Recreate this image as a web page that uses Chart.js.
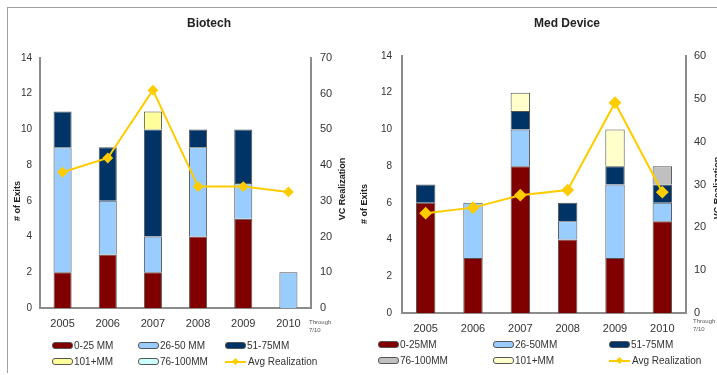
<!DOCTYPE html>
<html>
<head>
<meta charset="utf-8">
<script src="https://cdn.jsdelivr.net/npm/chart.js@4.4.1/dist/chart.umd.min.js"></script>
<style>
  body { margin: 0; width: 717px; height: 375px; overflow: hidden; background: #fff; font-family: "Liberation Sans", Arial, sans-serif; position: relative; }
  .frame { position: absolute; left: 7px; top: 7px; width: 720px; height: 365px; border-top: 1px solid #a0a0a0; border-left: 1px solid #a0a0a0; }
  .box { position: absolute; top: 8px; height: 367px; }
  .legend { position: absolute; font-size: 10px; color: #333; }
  .item { position: absolute; display: flex; align-items: center; white-space: nowrap; }
  .sw { width: 19px; height: 5px; border: 1px solid #555; border-radius: 3px; margin-right: 1px; }
  .ln { width: 21px; height: 8px; margin-right: 2px; position: relative; }
  .ln:before { content: ""; position: absolute; left: 0; right: 0; top: 3px; height: 2px; background: #ffcc00; }
  .ln:after { content: ""; position: absolute; left: 8px; top: 1px; width: 5px; height: 5px; background: #ffcc00; transform: rotate(45deg); }
</style>
</head>
<body>
<div class="frame"></div>
<div class="box" style="left:8px;width:350px"><canvas id="bio"></canvas></div>
<div class="box" style="left:358px;width:380px"><canvas id="med"></canvas></div>
<div class="legend" id="bioLegend"></div>
<div class="legend" id="medLegend"></div>
<script>
const years = ["2005", "2006", "2007", "2008", "2009", "2010"];

// Biotech: exits by size bucket, stacked bottom to top
const bio0to25 = [2, 3, 2, 4, 5, 0];
const bio26to50 = [7, 3, 2, 5, 2, 2];
const bio51to75 = [2, 3, 6, 1, 3, 0];
const bio76to100 = [0, 0, 0, 0, 0, 0];
const bio101plus = [0, 0, 1, 0, 0, 0];
const bioAvg = [38, 42, 61, 34, 34, 32.5];

// Med Device
const med0to25 = [6, 3, 8, 4, 3, 5];
const med26to50 = [0, 3, 2, 1, 4, 1];
const med51to75 = [1, 0, 1, 1, 1, 1];
const med76to100 = [0, 0, 0, 0, 0, 1];
const med101plus = [0, 0, 1, 0, 2, 0];
const medAvg = [23.3, 24.6, 27.5, 28.7, 49.1, 28.2];

const leftTicks = [0, 2, 4, 6, 8, 10, 12, 14];

const FONT = "'Liberation Sans', Arial, sans-serif";
const gold = "#ffcc00";

const nz = (arr) => arr.map((v) => (v === 0 ? null : v));

const bar = (label, data, color) => ({
  type: "bar",
  label: label,
  data: nz(data),
  backgroundColor: color,
  borderColor: "#555",
  borderWidth: 1,
  yAxisID: "y",
  order: 1,
});

// draws titles and the small "Through 7/10" note
const textPlugin = (cfg) => ({
  id: "texts",
  afterDraw(chart) {
    const ctx = chart.ctx;
    const a = chart.chartArea;
    ctx.save();
    ctx.fillStyle = "#222";
    ctx.textAlign = "center";
    ctx.textBaseline = "middle";
    ctx.font = "bold 12px " + FONT;
    ctx.fillText(cfg.title, cfg.titleX, 16);

    ctx.font = "bold 9px " + FONT;
    ctx.save();
    ctx.translate(cfg.leftTitleX, cfg.leftTitleY);
    ctx.rotate(-Math.PI / 2);
    ctx.fillText("# of Exits", 0, 0);
    ctx.restore();
    ctx.save();
    ctx.translate(cfg.rightTitleX, cfg.rightTitleY);
    ctx.rotate(-Math.PI / 2);
    ctx.fillText("VC Realization", 0, 0);
    ctx.restore();

    ctx.font = "6px " + FONT;
    ctx.fillStyle = "#555";
    ctx.textAlign = "left";
    ctx.fillText("Through", cfg.noteX, a.bottom + cfg.noteDy);
    ctx.fillText("7/10", cfg.noteX, a.bottom + cfg.noteDy + 8);
    ctx.restore();
  },
});

function makeChart(id, sets, avg, rightMax, geo, pointR) {
  return new Chart(document.getElementById(id), {
    data: {
      labels: years,
      datasets: [
        {
          type: "line",
          label: "Avg Realization",
          data: avg,
          borderColor: gold,
          backgroundColor: gold,
          borderWidth: 2,
          pointStyle: "rectRot",
          pointRadius: pointR,
          pointHoverRadius: pointR,
          yAxisID: "y1",
          order: 0,
          tension: 0,
        },
        ...sets,
      ],
    },
    options: {
      responsive: true,
      maintainAspectRatio: false,
      animation: false,
      events: [],
      layout: { padding: { top: geo.top, bottom: geo.bottom, left: 0, right: 0 } },
      plugins: { legend: { display: false }, tooltip: { enabled: false }, title: { display: false } },
      scales: {
        x: {
          stacked: true,
          grid: { display: false, drawTicks: false },
          border: { display: true, color: "#8c8c8c", width: 2 },
          ticks: { color: "#333", font: { family: FONT, size: 11 }, padding: 9 },
          afterFit: (s) => { s.height = 25; },
        },
        y: {
          stacked: true,
          min: 0,
          max: 14,
          position: "left",
          grid: { display: false, drawTicks: false },
          border: { display: true, color: "#8c8c8c", width: 2 },
          afterBuildTicks: (s) => { s.ticks = leftTicks.map((v) => ({ value: v })); },
          ticks: { color: "#333", font: { family: FONT, size: 10 }, padding: geo.lpad },
          afterFit: (s) => { s.width = geo.lw; },
        },
        y1: {
          min: 0,
          max: rightMax,
          position: "right",
          grid: { display: false, drawTicks: false },
          border: { display: true, color: "#8c8c8c", width: 2 },
          ticks: { stepSize: 10, color: "#333", font: { family: FONT, size: 11 }, padding: geo.rpad },
          afterFit: (s) => { s.width = geo.rw; },
        },
      },
    },
    plugins: [textPlugin(geo.text)],
  });
}

makeChart(
  "bio",
  [
    bar("0-25 MM", bio0to25, "#800000"),
    bar("26-50 MM", bio26to50, "#99ccff"),
    bar("51-75MM", bio51to75, "#003366"),
    bar("76-100MM", bio76to100, "#ccffff"),
    bar("101+MM", bio101plus, "#ffff99"),
  ].map((d) => Object.assign(d, { barPercentage: 0.4, categoryPercentage: 1 })),
  bioAvg,
  70,
  {
    top: 50, bottom: 42, lw: 32, rw: 47, lpad: 8, rpad: 9,
    text: { title: "Biotech", titleX: 201, leftTitleX: 10, leftTitleY: 193, rightTitleX: 335, rightTitleY: 181, noteX: 301, noteDy: 14 },
  },
  4
);

makeChart(
  "med",
  [
    bar("0-25MM", med0to25, "#800000"),
    bar("26-50MM", med26to50, "#99ccff"),
    bar("51-75MM", med51to75, "#003366"),
    bar("76-100MM", med76to100, "#c0c0c0"),
    bar("101+MM", med101plus, "#ffffcc"),
  ].map((d) => Object.assign(d, { barPercentage: 0.41, categoryPercentage: 1 })),
  medAvg,
  60,
  {
    top: 48, bottom: 37, lw: 44, rw: 52, lpad: 10, rpad: 8,
    text: { title: "Med Device", titleX: 209, leftTitleX: 7, leftTitleY: 196, rightTitleX: 360, rightTitleY: 180, noteX: 335, noteDy: 8 },
  },
  5
);

// HTML legends in two rows of three
function legend(el, items, cols, rows) {
  const box = document.getElementById(el);
  items.forEach((it, i) => {
    const d = document.createElement("div");
    d.className = "item";
    d.style.left = cols[i % 3] + "px";
    d.style.top = rows[Math.floor(i / 3)] - 6 + "px";
    const s = document.createElement("span");
    if (it.line) {
      s.className = "ln";
    } else {
      s.className = "sw";
      s.style.background = it.color;
    }
    d.appendChild(s);
    d.appendChild(document.createTextNode(it.label));
    box.appendChild(d);
  });
}

legend(
  "bioLegend",
  [
    { label: "0-25 MM", color: "#800000" },
    { label: "26-50 MM", color: "#99ccff" },
    { label: "51-75MM", color: "#003366" },
    { label: "101+MM", color: "#ffff99" },
    { label: "76-100MM", color: "#ccffff" },
    { label: "Avg Realization", line: true },
  ],
  [52, 138, 225],
  [346, 362]
);

legend(
  "medLegend",
  [
    { label: "0-25MM", color: "#800000" },
    { label: "26-50MM", color: "#99ccff" },
    { label: "51-75MM", color: "#003366" },
    { label: "76-100MM", color: "#c0c0c0" },
    { label: "101+MM", color: "#ffffcc" },
    { label: "Avg Realization", line: true },
  ],
  [378, 493, 609],
  [345, 361]
);
</script>
</body>
</html>
